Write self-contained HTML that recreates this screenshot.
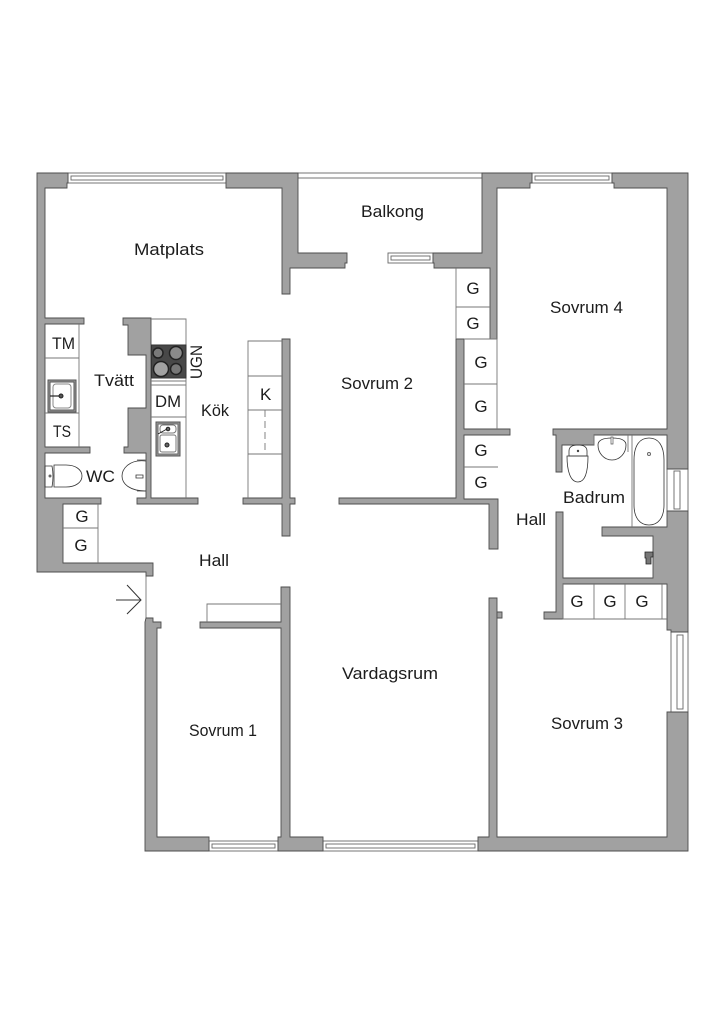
<!DOCTYPE html>
<html><head><meta charset="utf-8"><style>
html,body{margin:0;padding:0;background:#fff}
svg{display:block}
text{font-family:"Liberation Sans",sans-serif;fill:#1c1c1c}
.w{fill:#a1a1a1;stroke:#4d4d4d;stroke-width:.9;stroke-linejoin:miter}
.l{fill:none;stroke:#777;stroke-width:.9}
.d{fill:none;stroke:#333;stroke-width:.8}
.win{fill:#fff;stroke:#666;stroke-width:.9}
</style></head><body>
<svg xmlns="http://www.w3.org/2000/svg" width="724" height="1024" viewBox="0 0 724 1024">
<rect width="724" height="1024" fill="#fff"/>

<!-- windows -->
<g class="win">
<rect x="68" y="173" width="158" height="10"/><rect x="71" y="176" width="152" height="4"/>
<rect x="298" y="173" width="184" height="5"/>
<rect x="388" y="253" width="45" height="10"/><rect x="391" y="256" width="39" height="4"/>
<rect x="532" y="173" width="80" height="10"/><rect x="535" y="176" width="74" height="4"/>
<rect x="667" y="469" width="21" height="42"/><rect x="674" y="471" width="6" height="38"/>
<rect x="671" y="632" width="17" height="80"/><rect x="677" y="635" width="6" height="74"/>
<rect x="209" y="841" width="69" height="10"/><rect x="212" y="844" width="63" height="4"/>
<rect x="323" y="841" width="155" height="10"/><rect x="326" y="844" width="149" height="4"/>
</g>
<path class="l" d="M146 576V618"/>

<!-- walls -->
<g class="w">
<path d="M37 173H68V183H67V188H45V318H84V324H45V358H45V447H90V453H45V498H101V504H63V563H153V576H146V572H37Z"/>
<path d="M226 173H298V253H347V263H345V268H290V294H282V188H226V183H226Z"/>
<path d="M433 253H482V173H532V183H530V188H497V339H490V268H434V263H433Z"/>
<path d="M612 173H688V469H667V435H594V445H562V472H556V435H553V429H667V188H614V183H612Z"/>
<path d="M123 318H151V498H198V504H137V498H146V453H124V447H128V408H146V355H128V325H123Z"/>
<path d="M282 339H290V498H295V504H290V536H282V504H243V498H282Z"/>
<path d="M339 498H456V339H464V429H510V435H464V499H498V549H489V504H339Z"/>
<path d="M556 512H563V578H653V536H602V527H667V511H688V632H671V630H667V584H563V619H544V612H556Z"/>
<path d="M281 587H290V837H323V851H278V837H281V628H200V622H281Z"/>
<path d="M146 618H153V622H161V628H157V837H209V851H145V622Z"/>
<path d="M489 598H497V837H667V712H688V851H478V837H489V618H489Z"/>
<path d="M497 612H502V618H497Z"/>
</g>

<!-- closets and fittings -->
<g class="l">
<path d="M456 268V339M456 307H490"/>
<path d="M464 384H497M497 339V429M464 339H497"/>
<path d="M464 467H498"/>
<path d="M63 528H98M98 504V563"/>
<path d="M45 358H79M79 324V447M45 413H79"/>
<path d="M151 319H186V498M151 385H186M151 417H186M151 381H186"/>
<path d="M248 498V341H282M248 376H282M248 410H282M248 454H282"/>
<path stroke-dasharray="7 4" d="M265 410V451"/>
<path d="M207 622V604H281"/>
<path d="M563 584V619H667M594 584V619M625 584V619M662 584V619"/>
<path d="M594 435V445M632 435V527M628 435V452"/>
<path d="M146 460H137M146 491H137"/>
</g>

<!-- stove -->
<rect x="151.500" y="345" width="34.500" height="33" fill="#484848" stroke="#333"/>
<g stroke="#222" stroke-width="1.500">
<circle cx="158" cy="353" r="5" fill="#7a7a7a"/><circle cx="176" cy="353" r="6.500" fill="#8a8a8a"/>
<circle cx="161" cy="369" r="7.500" fill="#a2a2a2"/><circle cx="176" cy="369" r="5.500" fill="#777"/>
</g>

<!-- laundry sink -->
<rect x="48" y="380" width="28" height="32" fill="#999" stroke="#555"/>
<rect x="50" y="382" width="24" height="28" fill="#fff" stroke="#555"/>
<rect x="53" y="384" width="18" height="24" rx="3" fill="#fff" stroke="#888"/>
<path d="M50 396H60" stroke="#222" stroke-width="1.200"/><circle cx="61" cy="396" r="2" fill="#555" stroke="#222"/>

<!-- kitchen sink -->
<rect x="156" y="422" width="24" height="34" fill="#999" stroke="#555"/>
<rect x="158" y="424" width="20" height="30" fill="#fff" stroke="#666"/>
<rect x="160" y="425" width="16" height="8" rx="3" fill="#fff" stroke="#777"/>
<rect x="160" y="435" width="16" height="17" rx="2" fill="#fff" stroke="#777"/>
<circle cx="168" cy="429" r="1.800" fill="#666" stroke="#222"/><circle cx="167" cy="445" r="2" fill="#666" stroke="#222"/>
<path d="M158 434L167 429" stroke="#222" stroke-width="1"/>

<!-- WC -->
<path class="d" d="M45 466H52Q54 476 52 487H45Z"/>
<path class="d" d="M54 465H66C76 465 82 470 82 476C82 482 76 487 66 487H54Z"/>
<circle cx="50" cy="476" r="1.500" fill="#666"/>
<path class="d" d="M146 461C128 459 122 470 122 476C122 484 130 491 146 491"/>
<path class="d" d="M136 475H143V478H136Z"/>

<!-- bath -->
<path class="d" d="M634 460C634 445 640 438 649 438C658 438 664 445 664 460C664 480 664 490 664 505C664 518 658 525 649 525C640 525 634 518 634 505C634 490 634 480 634 460Z"/>
<circle cx="649" cy="454" r="1.500" fill="none" stroke="#666"/>
<!-- basin -->
<path class="d" d="M598 445C598 440 604 438 612 438C620 438 626 440 626 445C626 453 620 460 612 460C604 460 598 453 598 445Z"/>
<path d="M611 437H613V444H611Z" fill="#fff" stroke="#555" stroke-width=".7"/>
<!-- toilet -->
<path class="d" d="M569 451C569 447 572 445 578 445C584 445 587 447 587 451V456H569Z"/>
<path class="d" d="M567 456H588C588 470 586 482 578 482C570 482 567 470 567 456Z"/>
<circle cx="578" cy="451" r="1.200" fill="#444"/>
<!-- tap -->
<path d="M645 552H653V557H651V564H646V558H645Z" fill="#777" stroke="#222" stroke-width=".8"/>

<!-- arrow -->
<path d="M116 600H141M127 585L141 600L127 614" fill="none" stroke="#333" stroke-width="1"/>

<!-- labels -->
<g font-size="17">
<text x="134" y="255" textLength="70" lengthAdjust="spacingAndGlyphs">Matplats</text>
<text x="361" y="217" textLength="63" lengthAdjust="spacingAndGlyphs">Balkong</text>
<text x="550" y="313" textLength="73" lengthAdjust="spacingAndGlyphs">Sovrum 4</text>
<text x="341" y="389" textLength="72" lengthAdjust="spacingAndGlyphs">Sovrum 2</text>
<text x="94" y="386" textLength="40" lengthAdjust="spacingAndGlyphs">Tvätt</text>
<text x="201" y="416" textLength="28" lengthAdjust="spacingAndGlyphs">Kök</text>
<text x="86" y="482" textLength="29" lengthAdjust="spacingAndGlyphs">WC</text>
<text x="199" y="566" textLength="30" lengthAdjust="spacingAndGlyphs">Hall</text>
<text x="516" y="525" textLength="30" lengthAdjust="spacingAndGlyphs">Hall</text>
<text x="563" y="503" textLength="62" lengthAdjust="spacingAndGlyphs">Badrum</text>
<text x="342" y="679" textLength="96" lengthAdjust="spacingAndGlyphs">Vardagsrum</text>
<text x="189" y="736" textLength="68" lengthAdjust="spacingAndGlyphs">Sovrum 1</text>
<text x="551" y="729" textLength="72" lengthAdjust="spacingAndGlyphs">Sovrum 3</text>
<text x="52" y="349" textLength="23" lengthAdjust="spacingAndGlyphs">TM</text>
<text x="53" y="437" textLength="18" lengthAdjust="spacingAndGlyphs">TS</text>
<text x="155" y="407" textLength="26" lengthAdjust="spacingAndGlyphs">DM</text>
<text x="260" y="400">K</text>
<text transform="translate(202 379) rotate(-90)" textLength="34" lengthAdjust="spacingAndGlyphs">UGN</text>
</g>
<g font-size="17" text-anchor="middle">
<text x="473" y="294">G</text><text x="473" y="329">G</text>
<text x="481" y="368">G</text><text x="481" y="412">G</text>
<text x="481" y="456">G</text><text x="481" y="488">G</text>
<text x="82" y="522">G</text><text x="81" y="551">G</text>
<text x="577" y="607">G</text><text x="610" y="607">G</text><text x="642" y="607">G</text>
</g>
</svg>
</body></html>
